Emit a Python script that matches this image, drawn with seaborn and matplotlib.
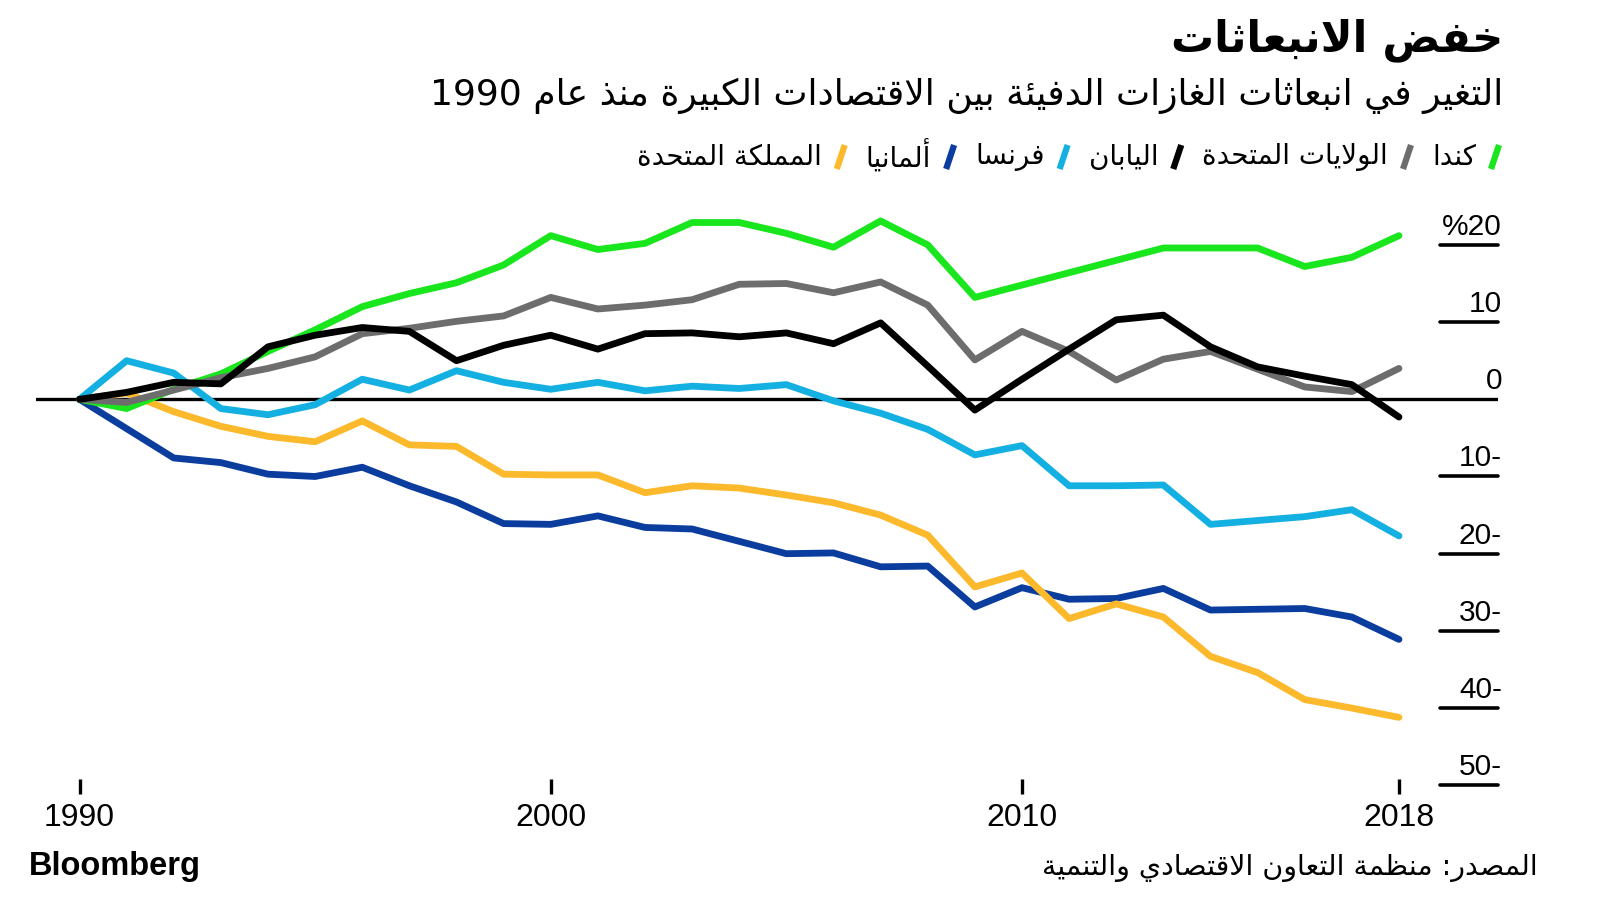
import re
import matplotlib
matplotlib.use("Agg")
import matplotlib.pyplot as plt
import matplotlib.transforms as mtransforms
from matplotlib.lines import Line2D
import pandas as pd
import seaborn as sns

# ---- data (percent change in greenhouse gas emissions since 1990) ----
years = list(range(1990, 2019))
canada  = [0, -1.2, 1.3, 3.3, 6.2, 9.0, 12.0, 13.7, 15.1, 17.4, 21.2, 19.4, 20.2, 22.9, 22.9,
           21.5, 19.7, 23.1, 20.0, 13.2, 14.8, 16.4, 18.0, 19.6, 19.6, 19.6, 17.2, 18.4, 21.2]
usa     = [0, -0.4, 1.2, 2.8, 4.0, 5.5, 8.5, 9.2, 10.1, 10.8, 13.2, 11.7, 12.2, 12.9, 14.9,
           15.0, 13.8, 15.2, 12.2, 5.1, 8.8, 6.2, 2.5, 5.2, 6.2, 3.9, 1.6, 1.0, 4.0]
japan   = [0, 0.9, 2.2, 2.0, 6.8, 8.3, 9.3, 8.8, 5.0, 7.0, 8.3, 6.5, 8.5, 8.6, 8.1,
           8.6, 7.2, 9.9, 4.3, -1.4, 2.6, 6.5, 10.3, 10.9, 6.8, 4.2, 3.0, 1.9, -2.3]
france  = [0, 5.0, 3.4, -1.2, -2.0, -0.7, 2.6, 1.2, 3.7, 2.2, 1.3, 2.2, 1.1, 1.7, 1.4,
           1.9, -0.2, -1.8, -3.9, -7.2, -6.0, -11.2, -11.2, -11.1, -16.2, -15.7, -15.2, -14.3, -17.7]
germany = [0, -3.8, -7.6, -8.2, -9.7, -10.0, -8.8, -11.2, -13.3, -16.1, -16.2, -15.1, -16.6, -16.8, -18.4,
           -20.0, -19.9, -21.7, -21.6, -26.9, -24.4, -25.9, -25.8, -24.5, -27.3, -27.2, -27.1, -28.2, -31.1]
uk      = [0, 0.8, -1.6, -3.5, -4.8, -5.5, -2.8, -5.9, -6.1, -9.7, -9.8, -9.8, -12.1, -11.2, -11.5,
           -12.4, -13.4, -15.0, -17.6, -24.3, -22.5, -28.4, -26.5, -28.2, -33.3, -35.4, -38.9, -40.0, -41.2]

countries = ["كندا", "الولايات المتحدة", "اليابان", "فرنسا", "ألمانيا", "المملكة المتحدة"]
series = [canada, usa, japan, france, germany, uk]
colors = ["#19e61c", "#6d6d6d", "#000000", "#15b0e2", "#0b3d9e", "#fdb92c"]

x_ticks = [1990, 2000, 2010, 2018]
y_ticks = [20, 10, 0, -10, -20, -30, -40, -50]
y_tick_labels = ["%20", "10", "0", "10-", "20-", "30-", "40-", "50-"]

title = "خفض الانبعاثات"
subtitle = "التغير في انبعاثات الغازات الدفيئة بين الاقتصادات الكبيرة منذ عام 1990"
source = "المصدر: منظمة التعاون الاقتصادي والتنمية"

# ---- minimal arabic shaping (matplotlib has no complex text layout) ----
AR = "ءآأؤإئابةتثجحخدذرزسشصضطظعغفقكلمنهوىي"
FORMS = {}
code = 0xFE80
for ch in AR:
    n = 1 if ch == "ء" else (2 if ch in "آأؤإادذرزةوى" else 4)
    FORMS[ch] = [chr(code + i) for i in range(n)]
    code += n
LAM_ALEF = {"آ": "\uFEF5", "أ": "\uFEF7", "إ": "\uFEF9", "ا": "\uFEFB"}


def ar(text):
    units = []
    i = 0
    while i < len(text):
        if text[i] == "ل" and i + 1 < len(text) and text[i + 1] in LAM_ALEF:
            units.append(("la", text[i + 1]))
            i += 2
        else:
            units.append(("c", text[i]))
            i += 1

    def join_prev(u):
        return u[0] == "la" or (u[1] in FORMS and u[1] != "ء")

    def join_next(u):
        return u[0] == "c" and u[1] in FORMS and len(FORMS[u[1]]) == 4

    out = []
    for k, u in enumerate(units):
        jp = k > 0 and join_next(units[k - 1]) and join_prev(u)
        jn = k < len(units) - 1 and join_next(u) and join_prev(units[k + 1])
        if u[0] == "la":
            out.append(chr(ord(LAM_ALEF[u[1]]) + (1 if jp else 0)))
        elif u[1] in FORMS:
            f = FORMS[u[1]]
            if len(f) == 4:
                idx = 3 if (jp and jn) else 1 if jp else 2 if jn else 0
            else:
                idx = 1 if (jp and len(f) > 1) else 0
            out.append(f[idx])
        else:
            out.append(u[1])
    vis = "".join(out)[::-1]
    return re.sub(r"[0-9A-Za-z%.,]+", lambda m: m.group(0)[::-1], vis)


# ---- build long table ----
df = pd.DataFrame({
    "year": years * len(countries),
    "change": [v for s in series for v in s],
    "country": [c for c in countries for _ in years],
})

sns.set_style("white")
plt.rcParams["font.family"] = ["Liberation Sans", "DejaVu Sans"]
plt.rcParams["text.color"] = "black"
plt.rcParams["xtick.color"] = "black"
plt.rcParams["xtick.labelcolor"] = "black"
AR_FONT = ["DejaVu Sans"]

W, H = 1600, 900
fig = plt.figure(figsize=(16, 9), dpi=100)

# axes placement in pixels: 1990 at x=79.5, 2018 at x=1399, zero at y=399
px_year = (1399 - 79.5) / 28
px_pct = 7.72
ax_l, ax_r, ax_t, ax_b = 36, 1498, 205, 779
ax = fig.add_axes([ax_l / W, 1 - ax_b / H, (ax_r - ax_l) / W, (ax_b - ax_t) / H])
ax.set_xlim(1990 - (79.5 - ax_l) / px_year, 2018 + (ax_r - 1399) / px_year)
ax.set_ylim((399.3 - ax_b) / px_pct, (399.3 - ax_t) / px_pct)

# zero line and short tick underlines
ax.axhline(0, color="black", lw=2.4, zorder=1)
for v in y_ticks:
    if v != 0:
        ax.axhline(v, xmin=(1440 - ax_l) / (ax_r - ax_l), xmax=1.0, color="black",
                   lw=2.6, clip_on=False, zorder=1)

draw_order = ["ألمانيا", "المملكة المتحدة", "فرنسا", "كندا", "الولايات المتحدة", "اليابان"]
pal = dict(zip(countries, colors))
sns.lineplot(data=df, x="year", y="change", hue="country", hue_order=draw_order,
             palette=pal, linewidth=4.9, legend=False, ax=ax, zorder=3)
for ln in ax.lines[len(y_ticks):]:
    ln.set_solid_capstyle("round")
    ln.set_solid_joinstyle("round")

# y labels sit above their underlines, right aligned
lab_tr = mtransforms.offset_copy(ax.get_yaxis_transform(), fig=fig, x=4, y=4, units="dots")
for v, lab in zip(y_ticks, y_tick_labels):
    ax.text(1.0, v, lab, transform=lab_tr, ha="right", va="bottom", fontsize=21.5,
            family=["Liberation Sans"], color="black")

ax.set_xticks(x_ticks)
ax.set_xticklabels([str(t) for t in x_ticks])
ax.set_yticks([])
ax.tick_params(axis="x", direction="out", length=11, width=2.4, pad=6, labelsize=23,
               color="black", labelcolor="black", bottom=True)
for s in ax.spines.values():
    s.set_visible(False)
ax.set_xlabel("")
ax.set_ylabel("")

# ---- titles ----
fig.text(1503 / W, 1 - 40 / H, ar(title), ha="right", va="center", fontsize=31,
         fontweight="bold", family=AR_FONT, color="black")
fig.text(1503 / W, 1 - 96 / H, ar(subtitle), ha="right", va="center", fontsize=26,
         family=AR_FONT, color="black")

# ---- legend: slanted swatches, right to left ----
renderer = fig.canvas.get_renderer()
x = 1500
yc = 157
for name, col in zip(countries, colors):
    fig.add_artist(Line2D([(x - 9) / W, (x - 1) / W], [1 - (yc + 12) / H, 1 - (yc - 12) / H],
                          color=col, lw=4.5, solid_capstyle="butt"))
    x -= 10 + 14
    t = fig.text(x / W, 1 - yc / H, ar(name), ha="right", va="center", fontsize=20,
                 family=AR_FONT, color="black")
    bb = t.get_window_extent(renderer)
    x -= bb.width + 20

# ---- footer ----
fig.text(29 / W, 1 - 867 / H, "Bloomberg", ha="left", va="center", fontsize=23.5,
         fontweight="bold", family=["Liberation Sans"], color="black")
fig.text(1538 / W, 1 - 868 / H, ar(source), ha="right", va="center", fontsize=20.5,
         family=AR_FONT, color="black")

fig.savefig("out.png", dpi=100)
